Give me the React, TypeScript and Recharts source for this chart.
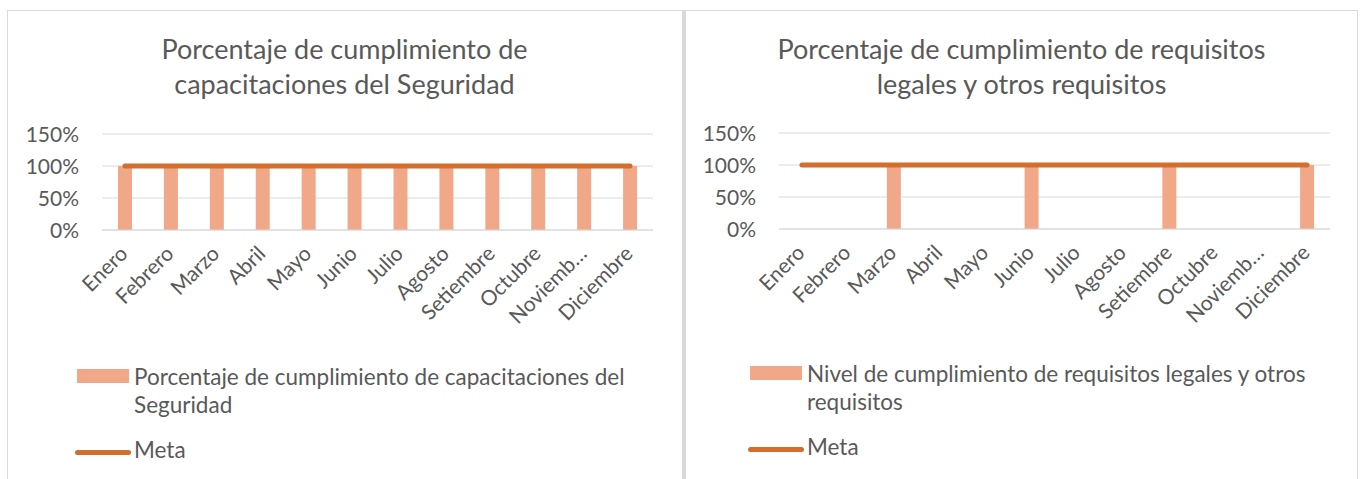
import { ComposedChart, Bar, Line, XAxis, YAxis, CartesianGrid } from 'recharts';

const months = [
  'Enero', 'Febrero', 'Marzo', 'Abril', 'Mayo', 'Junio',
  'Julio', 'Agosto', 'Setiembre', 'Octubre', 'Noviembre', 'Diciembre',
];
const capacitaciones = [100, 100, 100, 100, 100, 100, 100, 100, 100, 100, 100, 100];
const requisitos = [null, null, 100, null, null, 100, null, null, 100, null, null, 100];
const meta = [100, 100, 100, 100, 100, 100, 100, 100, 100, 100, 100, 100];
const yTicks = [0, 50, 100, 150];

const BAR = '#F1A888';
const LINE = '#D46E2C';
const TEXT = '#595959';
const GRID = '#D9D9D9';
const FONT = 'Lato, "Open Sans", sans-serif';
const CHART_H = 340;
const PLOT_H = 96;

const monthLabel = (m: string) => (m === 'Noviembre' ? 'Noviemb…' : m);

function MonthTick({ x, y, payload }: any) {
  const ax = x + 4;
  const ay = y + 25;
  return (
    <text
      x={ax}
      y={ay}
      transform={`rotate(-45 ${ax} ${ay})`}
      textAnchor="end"
      fill={TEXT}
      fontSize={21}
      fontFamily={FONT}
    >
      {monthLabel(payload.value)}
    </text>
  );
}

function PctTick({ y, payload }: any) {
  return (
    <text x={72} y={y} dy="0.36em" textAnchor="end" fill={TEXT} fontSize={21} fontFamily={FONT}>
      {`${payload.value}%`}
    </text>
  );
}

function Panel({
  top, values, title, legend, legendTop, metaTop, legendLeft,
}: {
  top: number; values: (number | null)[];
  title: string[]; legend: string[]; legendTop: number; metaTop: number; legendLeft: number;
}) {
  const data = months.map((m, i) => ({ month: m, valor: values[i], meta: meta[i] }));
  return (
    <>
      <div
        style={{
          position: 'absolute', left: 0, top: 21, width: 675, textAlign: 'center',
          fontSize: 27, lineHeight: '35px', color: TEXT, fontFamily: FONT,
        }}
      >
        {title.map((t) => <div key={t}>{t}</div>)}
      </div>
      <div style={{ position: 'absolute', left: 0, top: 0 }}>
        <ComposedChart
          width={675}
          height={CHART_H}
          data={data}
          margin={{ top: top, right: 29, bottom: 0, left: 0 }}
        >
          <CartesianGrid vertical={false} stroke={GRID} />
          <XAxis
            dataKey="month"
            axisLine={{ stroke: GRID }}
            tickLine={false}
            tickSize={0}
            tickMargin={0}
            interval={0}
            height={CHART_H - top - PLOT_H}
            tick={<MonthTick />}
          />
          <YAxis
            domain={[0, 150]}
            ticks={yTicks}
            axisLine={false}
            tickLine={false}
            tickSize={0}
            width={95}
            tick={<PctTick />}
          />
          <Bar dataKey="valor" fill={BAR} barSize={14} isAnimationActive={false} />
          <Line
            type="linear"
            dataKey="meta"
            stroke={LINE}
            strokeWidth={5}
            strokeLinecap="round"
            dot={false}
            isAnimationActive={false}
          />
        </ComposedChart>
      </div>
      <div style={{ position: 'absolute', left: legendLeft, top: legendTop, fontFamily: FONT, color: TEXT, fontSize: 22.5, lineHeight: '28px' }}>
        <div style={{ position: 'absolute', left: 0, top: 6, width: 52, height: 14, background: BAR }} />
        <div style={{ position: 'absolute', left: 57, top: 0, whiteSpace: 'nowrap' }}>
          {legend.map((t) => <div key={t}>{t}</div>)}
        </div>
      </div>
      <div style={{ position: 'absolute', left: legendLeft - 2, top: metaTop, fontFamily: FONT, color: TEXT, fontSize: 22.5, lineHeight: '28px' }}>
        <div style={{ position: 'absolute', left: 0, top: 14, width: 56, height: 5, borderRadius: 3, background: LINE }} />
        <div style={{ position: 'absolute', left: 59, top: 0, whiteSpace: 'nowrap' }}>Meta</div>
      </div>
    </>
  );
}

export default function App() {
  return (
    <div style={{ position: 'relative', width: 1361, height: 479, background: '#fff', overflow: 'hidden' }}>
      <style>{'body{margin:0}'}</style>
      <div
        style={{
          position: 'absolute', left: 7, top: 10, width: 677, height: 480, boxSizing: 'border-box',
          borderTop: `1px solid ${GRID}`, borderLeft: `1px solid ${GRID}`, borderRight: `2px solid ${GRID}`,
        }}
      />
      <div
        style={{
          position: 'absolute', left: 684, top: 10, width: 674, height: 480, boxSizing: 'border-box',
          borderTop: `1px solid ${GRID}`, borderLeft: `2px solid ${GRID}`, borderRight: `1px solid ${GRID}`,
        }}
      />
      <div style={{ position: 'absolute', left: 7, top: 10, width: 675, height: 470 }}>
        <Panel
          top={124}
          values={capacitaciones}
          title={['Porcentaje de cumplimiento de', 'capacitaciones del Seguridad']}
          legend={['Porcentaje de cumplimiento de capacitaciones del', 'Seguridad']}
          legendLeft={70}
          legendTop={353}
          metaTop={426}
        />
      </div>
      <div style={{ position: 'absolute', left: 684, top: 10, width: 675, height: 470 }}>
        <Panel
          top={123}
          values={requisitos}
          title={['Porcentaje de cumplimiento de requisitos', 'legales y otros requisitos']}
          legend={['Nivel de cumplimiento de requisitos legales y otros', 'requisitos']}
          legendLeft={66}
          legendTop={350}
          metaTop={423}
        />
      </div>
    </div>
  );
}
